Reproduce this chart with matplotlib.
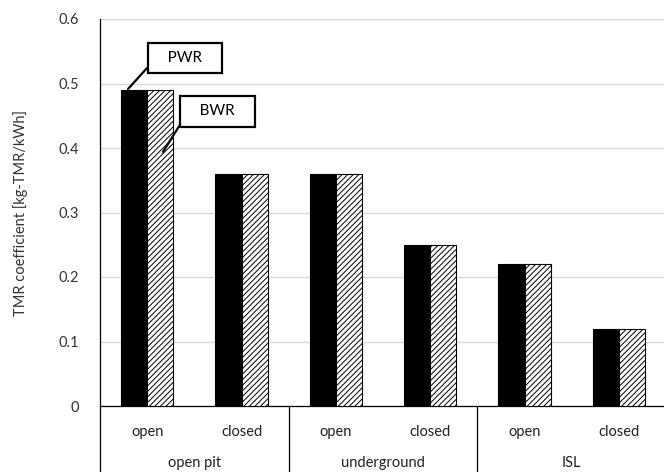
import matplotlib.pyplot as plt
from matplotlib import transforms
import numpy as np

plt.rcParams['font.family'] = ['Lato', 'DejaVu Sans']
plt.rcParams['hatch.linewidth'] = 0.7

methods = ['open', 'closed', 'open', 'closed', 'open', 'closed']
groups = ['open pit', 'underground', 'ISL']
pwr = [0.49, 0.36, 0.36, 0.25, 0.22, 0.12]
bwr = [0.49, 0.36, 0.36, 0.25, 0.22, 0.12]

fig = plt.figure(figsize=(6.64, 4.72), dpi=100)
ax = fig.add_axes([100 / 664, 66 / 472, 566 / 664, 387 / 472])

x = np.arange(len(methods))
w = 0.279
ax.bar(x - w / 2, pwr, w, color='black', edgecolor='black', lw=0.8, zorder=3)
ax.bar(x + w / 2, bwr, w, color='white', edgecolor='black', hatch='//////', lw=0.8, zorder=3)

ax.set_xlim(-0.5, 5.5)
ax.set_ylim(0, 0.6)
ax.set_yticks([0, 0.1, 0.2, 0.3, 0.4, 0.5, 0.6])
ax.set_yticklabels(['0', '0.1', '0.2', '0.3', '0.4', '0.5', '0.6'], fontsize=10.5, color='#333333')
ax.tick_params(axis='y', length=0, pad=15)
ax.yaxis.grid(True, color='#d9d9d9', lw=1)
ax.set_axisbelow(True)
ax.set_ylabel('TMR coefficient [kg-TMR/kWh]', fontsize=10.5, color='#333333', labelpad=22)

for s in ['top', 'right']:
    ax.spines[s].set_visible(False)
ax.spines['left'].set_linewidth(0.9)
ax.spines['bottom'].set_linewidth(0.9)

# two-level category labels under the axis
ax.set_xticks(x)
ax.set_xticklabels(methods, fontsize=10.5, color='#222222')
ax.tick_params(axis='x', length=0, pad=14)
trans = transforms.blended_transform_factory(ax.transData, ax.transAxes)
for i, g in enumerate(groups):
    ax.text(2 * i + 0.5, -0.148, g, transform=trans, ha='center', va='center',
            fontsize=10.5, color='#222222')
for sep in [-0.5, 1.5, 3.5, 5.5]:
    ax.plot([sep, sep], [0, -0.2], transform=trans, color='black', lw=0.9, clip_on=False)

# series callouts
box = dict(boxstyle='square,pad=0.55', fc='white', ec='black', lw=1.6)
line = dict(arrowstyle='-', color='black', lw=1.6, shrinkA=0, shrinkB=0, relpos=(0, 0.5))
ax.annotate('   PWR   ', xy=(-0.203, 0.4915), xytext=(0.40, 0.5395), fontsize=11,
            ha='center', va='center', bbox=box, arrowprops=line, zorder=5)
ax.annotate('   BWR   ', xy=(0.168, 0.394), xytext=(0.746, 0.457), fontsize=11,
            ha='center', va='center', bbox=box, arrowprops=line, zorder=5)

fig.savefig('out.png', dpi=100)
